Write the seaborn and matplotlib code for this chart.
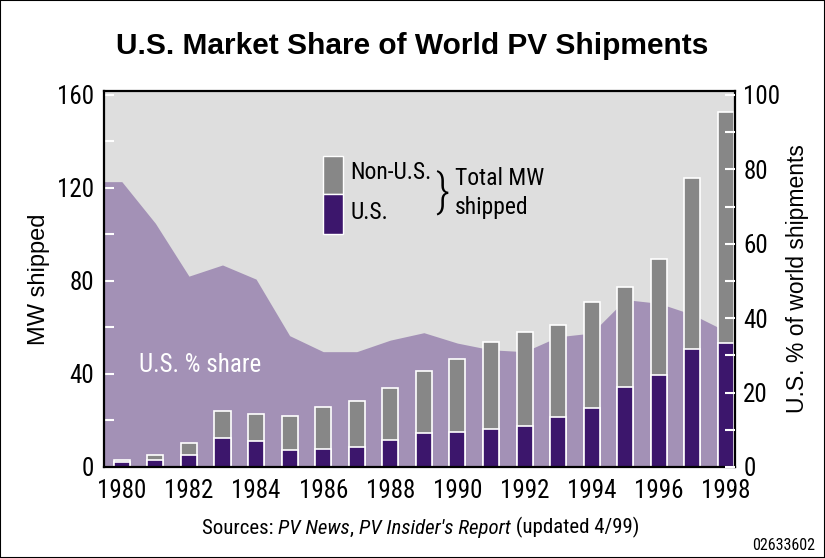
import numpy as np
import pandas as pd
import matplotlib
matplotlib.use("Agg")
import matplotlib.pyplot as plt
from matplotlib import font_manager
from matplotlib.patches import Rectangle
import seaborn as sns

# ---------- data ----------
years = [1980, 1981, 1982, 1983, 1984, 1985, 1986, 1987, 1988, 1989,
         1990, 1991, 1992, 1993, 1994, 1995, 1996, 1997, 1998]
total_mw = [3.0, 5.0, 10.5, 24.0, 22.9, 21.8, 26.0, 28.3, 34.0, 41.3,
            46.6, 53.9, 57.9, 61.1, 70.8, 77.4, 89.5, 124.2, 152.8]
us_mw = [2.0, 3.0, 5.2, 12.6, 11.3, 7.3, 7.9, 8.7, 11.6, 14.5,
         14.9, 16.3, 17.6, 21.4, 25.2, 34.5, 39.4, 50.6, 53.5]
us_share = [76.7, 65.5, 51.3, 54.3, 50.5, 35.3, 31.0, 31.0, 34.1, 36.1,
            33.3, 31.5, 31.0, 35.0, 36.0, 45.0, 44.0, 41.0, 36.5]
xtick_years = [1980, 1982, 1984, 1986, 1988, 1990, 1992, 1994, 1996, 1998]
mw_ticks = [0, 40, 80, 120, 160]
pct_ticks = [0, 20, 40, 60, 80, 100]

df = pd.DataFrame({"year": years, "total": total_mw, "us": us_mw, "share": us_share})

# ---------- style ----------
BG = "#dedede"
AREA = "#a391b6"
GRAY = "#878787"
PURPLE = "#3c166c"

# pick a narrow face if one is installed
installed = {f.name for f in font_manager.fontManager.ttflist}
narrow = None
for cand in ["Roboto Condensed", "Liberation Sans Narrow", "Arial Narrow",
             "DejaVu Sans Condensed", "Open Sans Condensed", "Roboto"]:
    if cand in installed:
        narrow = cand
        break
if narrow is None:
    narrow = "Liberation Sans"
WIDE = ["Liberation Sans", "DejaVu Sans"]

sns.set_style("ticks")
plt.rcParams["font.family"] = [narrow, "DejaVu Sans"]
plt.rcParams["font.stretch"] = "condensed"
plt.rcParams["text.color"] = "black"
plt.rcParams["axes.labelcolor"] = "black"

MW_PER_PCT = 160 / 100   # right axis: 100 % sits at 160 MW
XMIN, XMAX = 1979.47, 1998.27
YMAX = 161.7
FS = 17

fig = plt.figure(figsize=(8.25, 5.58), dpi=100)
ax = fig.add_axes([0.1261, 0.1631, 0.7648, 0.6738])
ax.set_facecolor(BG)

# U.S. share area, carried flat to the plot edges
area_x = [XMIN] + years + [XMAX]
area_y = np.array([us_share[0]] + us_share + [us_share[-1]]) * MW_PER_PCT
ax.fill_between(area_x, area_y, 0, color=AREA, linewidth=0, zorder=0.5)

# stacked bars: total (grey) then U.S. (purple) on top
sns.barplot(data=df, x="year", y="total", native_scale=True, width=0.48,
            color=GRAY, saturation=1, edgecolor="white", linewidth=1.2,
            errorbar=None, ax=ax, zorder=1)
sns.barplot(data=df, x="year", y="us", native_scale=True, width=0.48,
            color=PURPLE, saturation=1, edgecolor="white", linewidth=1.2,
            errorbar=None, ax=ax, zorder=1.1)

ax.set_xlim(XMIN, XMAX)
ax.set_ylim(0, YMAX)
ax.set_xticks(xtick_years)
ax.set_xticklabels([str(y) for y in xtick_years], fontsize=FS + 1)
ax.set_yticks(mw_ticks)
ax.set_yticks([20, 60, 100, 140], minor=True)
ax.set_yticklabels([str(v) for v in mw_ticks], fontsize=FS + 1)
ax.tick_params(axis="x", length=0, pad=9, labelcolor="black")
ax.tick_params(axis="y", which="both", direction="in", color="white",
               length=7, width=1.5, pad=7, right=False, labelcolor="black")
ax.set_xlabel("")
ax.set_ylabel("MW shipped", fontsize=FS, labelpad=5, family=WIDE,
              fontstretch="normal")
for s in ax.spines.values():
    s.set_color("black")
    s.set_linewidth(1.6)
    s.set_zorder(5)

# right axis in percent
ax2 = ax.twinx()
ax2.set_ylim(0, YMAX / MW_PER_PCT)
ax2.set_yticks(pct_ticks)
ax2.set_yticks([10, 30, 50, 70, 90], minor=True)
ax2.set_yticklabels([str(v) for v in pct_ticks], fontsize=FS + 1)
ax2.tick_params(axis="y", which="both", direction="in", color="white",
                length=7, width=1.5, pad=6, labelcolor="black")
ax2.set_ylabel("U.S. % of world shipments", fontsize=FS - 0.5, labelpad=4,
               family=WIDE, fontstretch="normal")
for s in ax2.spines.values():
    s.set_visible(False)

# text inside plot
ax.text(0.056, 0.272, "U.S. % share", transform=ax.transAxes, color="white",
        fontsize=FS + 1, va="center", ha="left")

# hand-made legend
ax.add_patch(Rectangle((0.347, 0.725), 0.032, 0.103, transform=ax.transAxes,
                       facecolor=GRAY, edgecolor="white", linewidth=1, zorder=3))
ax.add_patch(Rectangle((0.347, 0.620), 0.032, 0.105, transform=ax.transAxes,
                       facecolor=PURPLE, edgecolor="white", linewidth=1, zorder=3))
ax.text(0.390, 0.782, "Non-U.S.", transform=ax.transAxes, fontsize=FS, va="center")
ax.text(0.390, 0.676, "U.S.", transform=ax.transAxes, fontsize=FS, va="center")
ax.text(0.536, 0.727, "}", transform=ax.transAxes, fontsize=34, va="center",
        ha="center", fontweight="light")
ax.text(0.556, 0.766, "Total MW", transform=ax.transAxes, fontsize=FS, va="center")
ax.text(0.556, 0.689, "shipped", transform=ax.transAxes, fontsize=FS, va="center")

# title
fig.text(0.5, 0.918, "U.S. Market Share of World PV Shipments", ha="center",
         va="center", fontsize=21.5, fontweight="bold", family=WIDE,
         fontstretch="normal")

# sources line with italic pieces chained left to right
pieces = [("Sources: ", "normal"), ("PV News", "italic"), (", ", "normal"),
          ("PV Insider's Report", "italic"), (" (updated 4/99)", "normal")]
prev = fig.text(0.245, 0.036, pieces[0][0], fontsize=15, va="bottom", ha="left")
for txt, st in pieces[1:]:
    prev = ax.annotate(txt, xy=(1, 0), xycoords=prev, fontsize=15, style=st,
                       va="bottom", ha="left", annotation_clip=False)

fig.text(0.988, 0.022, "02633602", ha="right", va="center", fontsize=11.5)

# thin frame round the whole picture
fig.patches.append(Rectangle((0, 0), 1, 1, transform=fig.transFigure, fill=False,
                             edgecolor="black", linewidth=1.5, figure=fig))

fig.savefig("out.png", dpi=100)
